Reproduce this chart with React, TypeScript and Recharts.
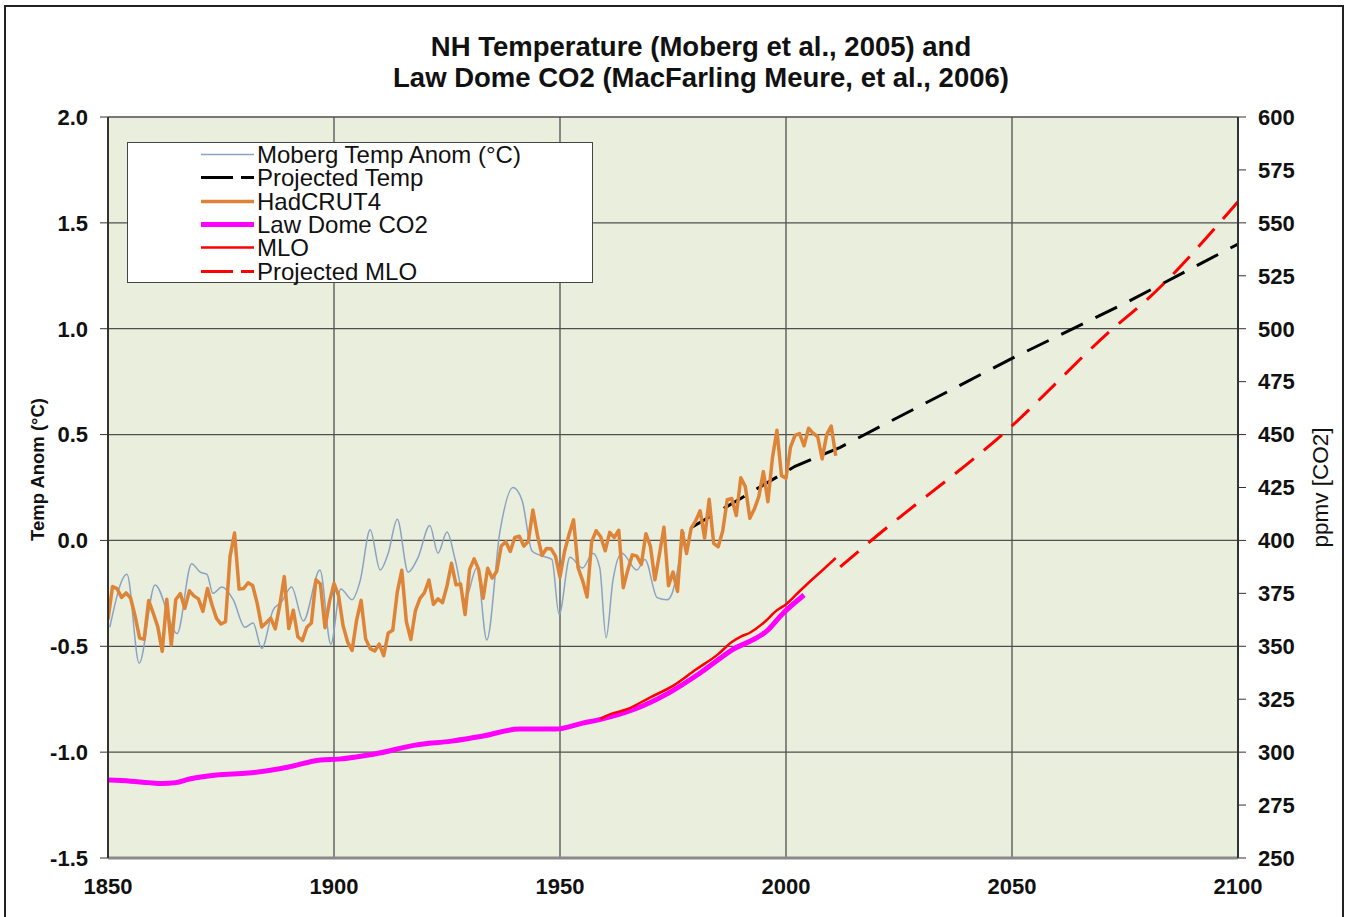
import { LineChart, Line, XAxis, YAxis, CartesianGrid, Legend } from 'recharts';

// x axis / tick labels
const YEAR_TICKS = [1850, 1900, 1950, 2000, 2050, 2100];
const TEMP_TICKS = [-1.5, -1.0, -0.5, 0, 0.5, 1.0, 1.5, 2.0];
const CO2_TICKS = [250, 275, 300, 325, 350, 375, 400, 425, 450, 475, 500, 525, 550, 575, 600];

// Moberg et al. 2005 NH temperature anomaly (smoothed)
const mobergYears = [
  1850.4, 1854.2, 1856.9, 1860.4, 1865.3, 1868.5, 1870.4, 1871.9, 1873.2, 1875.2, 1877.7, 1880.3,
  1882.1, 1884.0, 1886.5, 1888.4, 1890.6, 1893.2, 1896.9, 1899.3, 1901.5, 1904.0, 1905.8, 1908.0,
  1910.2, 1912.0, 1914.0, 1916.4, 1918.6, 1921.2, 1923.0, 1925.0, 1926.8, 1929.0, 1931.6, 1933.8,
  1936.7, 1939.6, 1941.6, 1943.8, 1945.6, 1948.2, 1949.8, 1952.2, 1955.0, 1957.3, 1958.8, 1960.2,
  1961.7, 1963.7, 1967.0, 1968.8, 1971.5, 1973.7, 1974.8, 1976.1, 1977.5,
];
const mobergTemp = [
  -0.41, -0.16, -0.58, -0.21, -0.44, -0.11, -0.15, -0.16, -0.25, -0.22, -0.28, -0.41,
  -0.39, -0.51, -0.33, -0.29, -0.22, -0.38, -0.14, -0.49, -0.23, -0.28, -0.19, 0.05,
  -0.14, -0.06, 0.10, -0.15, -0.08, 0.07, -0.06, 0.04, -0.09, -0.28, -0.13, -0.47,
  0.04, 0.25, 0.19, -0.05, -0.07, -0.09, -0.35, -0.08, -0.13, -0.06, -0.13, -0.46,
  -0.19, -0.06, -0.14, -0.09, -0.27, -0.28, -0.25, -0.13, 0.04,
];

// HadCRUT4 annual anomaly, 1850 onwards
const HADCRUT_START = 1850;
const hadcrutTemp = [
  -0.373, -0.218, -0.228, -0.269, -0.248, -0.272, -0.358, -0.461, -0.467, -0.284,
  -0.343, -0.407, -0.524, -0.278, -0.494, -0.279, -0.251, -0.321, -0.238, -0.262,
  -0.276, -0.335, -0.227, -0.304, -0.368, -0.395, -0.384, -0.075, 0.035, -0.23,
  -0.227, -0.2, -0.213, -0.296, -0.409, -0.389, -0.367, -0.418, -0.307, -0.171,
  -0.416, -0.33, -0.455, -0.473, -0.41, -0.39, -0.186, -0.206, -0.412, -0.289,
  -0.203, -0.259, -0.402, -0.479, -0.52, -0.377, -0.283, -0.465, -0.511, -0.522,
  -0.49, -0.544, -0.437, -0.424, -0.244, -0.141, -0.383, -0.468, -0.333, -0.275,
  -0.247, -0.187, -0.302, -0.276, -0.294, -0.215, -0.108, -0.21, -0.206, -0.35,
  -0.137, -0.087, -0.137, -0.273, -0.131, -0.178, -0.147, -0.026, -0.006, -0.052,
  0.014, 0.02, -0.027, -0.004, 0.144, 0.025, -0.071, -0.038, -0.039, -0.074,
  -0.173, -0.052, 0.028, 0.097, -0.129, -0.19, -0.267, -0.007, 0.046, 0.017,
  -0.049, 0.038, 0.014, 0.048, -0.223, -0.14, -0.068, -0.074, -0.113, 0.032,
  -0.027, -0.186, -0.065, 0.062, -0.214, -0.149, -0.241, 0.047, -0.062, 0.057,
  0.092, 0.14, 0.011, 0.194, -0.014, -0.03, 0.045, 0.192, 0.198, 0.118,
  0.296, 0.254, 0.105, 0.148, 0.208, 0.325, 0.183, 0.39, 0.52, 0.306,
  0.294, 0.441, 0.496, 0.505, 0.447, 0.53, 0.506, 0.491, 0.385, 0.5,
  0.54, 0.4,
];

// projected temperature (black dashed)
const projTempYears = [1979, 2002, 2012, 2050, 2075, 2100];
const projTemp = [0.06, 0.35, 0.44, 0.86, 1.12, 1.4];

// Law Dome CO2 (ppmv)
const lawDomeYears = [
  1850, 1855, 1859, 1862, 1865, 1868, 1874, 1881, 1890, 1897, 1901, 1909, 1918, 1926, 1933, 1941,
  1949, 1955, 1959, 1966, 1974, 1981, 1988, 1996, 1999, 2004,
];
const lawDomeCo2 = [
  286.8, 286.3, 285.6, 285.2, 285.6, 287.3, 289.2, 290.1, 293.0, 296.3, 296.7, 299.1, 303.3, 305.2,
  307.6, 310.9, 310.9, 313.7, 315.5, 319.9, 327.9, 337.4, 348.2, 357.7, 364.8, 374.2,
];

// Mauna Loa CO2
const mloYears = [1959, 1960, 1965, 1970, 1975, 1980, 1985, 1988, 1990, 1992, 1995, 1998, 2000, 2003, 2005, 2008, 2011];
const mloCo2 = [315.6, 316.9, 320.4, 325.9, 331.3, 338.9, 346.3, 352.0, 354.6, 356.4, 361.0, 367.0, 369.8, 376.0, 380.0, 385.8, 391.7];

// projected MLO (red dashed)
const projMloYears = [2012, 2019, 2049, 2072, 2080, 2100];
const projMloCo2 = [387.5, 400.2, 452.2, 499.4, 514.0, 560.0];

const zip = (xs: number[], ys: number[], key: string) => xs.map((x, i) => ({ year: x, [key]: ys[i] }));

const mobergData = zip(mobergYears, mobergTemp, 'temp');
const hadcrutData = hadcrutTemp.map((v, i) => ({ year: HADCRUT_START + i, temp: v }));
const projTempData = zip(projTempYears, projTemp, 'temp');
const lawDomeData = zip(lawDomeYears, lawDomeCo2, 'co2');
const mloData = zip(mloYears, mloCo2, 'co2');
const projMloData = zip(projMloYears, projMloCo2, 'co2');

const FONT = '"Liberation Sans", Arial, Helvetica, sans-serif';

const LEGEND_ORDER = ['Moberg Temp Anom (°C)', 'Projected Temp', 'HadCRUT4', 'Law Dome CO2', 'MLO', 'Projected MLO'];

const STYLES: Record<string, { color: string; width: number; dash?: boolean }> = {
  'Moberg Temp Anom (°C)': { color: '#8AA3C4', width: 1.5 },
  'Projected Temp': { color: '#000000', width: 3, dash: true },
  HadCRUT4: { color: '#DE8438', width: 3.5 },
  'Law Dome CO2': { color: '#FF00FF', width: 5 },
  MLO: { color: '#FF0000', width: 2.5 },
  'Projected MLO': { color: '#FF0000', width: 3, dash: true },
};

const LegendBox = ({ payload }: any) => {
  const entries = [...(payload || [])].sort(
    (a: any, b: any) => LEGEND_ORDER.indexOf(a.value) - LEGEND_ORDER.indexOf(b.value)
  );
  return (
    <div
      style={{
        width: 466,
        height: 141,
        boxSizing: 'border-box',
        background: '#fff',
        border: '1px solid #444',
        fontFamily: FONT,
        fontSize: 24,
        color: '#111',
      }}
    >
      {entries.map((entry: any) => {
        const s = STYLES[entry.value];
        return (
          <div key={entry.value} style={{ height: 23.3, display: 'flex', alignItems: 'center', whiteSpace: 'nowrap' }}>
            <svg width={129} height={23} style={{ flex: 'none' }}>
              {s.dash ? (
                <>
                  <line x1={73} x2={105} y1={11.5} y2={11.5} stroke={s.color} strokeWidth={s.width} />
                  <line x1={113} x2={126} y1={11.5} y2={11.5} stroke={s.color} strokeWidth={s.width} />
                </>
              ) : (
                <line x1={73} x2={126} y1={11.5} y2={11.5} stroke={s.color} strokeWidth={s.width} />
              )}
            </svg>
            <span style={{ lineHeight: '23px' }}>{entry.value}</span>
          </div>
        );
      })}
    </div>
  );
};

const AxisTitle = ({ viewBox, text, dx, dy, size, weight }: any) => {
  const cx = viewBox.x + dx;
  const cy = viewBox.y + viewBox.height / 2 + dy;
  return (
    <text
      x={cx}
      y={cy}
      transform={`rotate(-90 ${cx} ${cy})`}
      textAnchor="middle"
      dominantBaseline="central"
      fontFamily={FONT}
      fontSize={size}
      fontWeight={weight}
      fill="#111"
    >
      {text}
    </text>
  );
};

const tickStyle = { fill: '#111', fontSize: 22, fontWeight: 700, fontFamily: FONT };

const App = () => {
  return (
    <div style={{ position: 'absolute', left: 0, top: 0, width: 1347, height: 917, background: '#fff', overflow: 'hidden' }}>
      <div
        style={{
          position: 'absolute',
          left: 4,
          top: 5,
          width: 1340,
          height: 912,
          boxSizing: 'border-box',
          borderTop: '2px solid #222',
          borderLeft: '2px solid #222',
          borderRight: '2px solid #222',
        }}
      />
      <div
        style={{
          position: 'absolute',
          left: 0,
          top: 31,
          width: 1402,
          textAlign: 'center',
          fontFamily: FONT,
          fontWeight: 700,
          fontSize: 27.5,
          lineHeight: '31px',
          color: '#111',
          zIndex: 2,
        }}
      >
        <div>NH Temperature (Moberg et al., 2005) and</div>
        <div>Law Dome CO2 (MacFarling Meure, et al., 2006)</div>
      </div>
      <LineChart width={1347} height={917} margin={{ top: 117, right: 9, bottom: 19, left: 8 }}>
        <CartesianGrid
          xAxisId="x"
          yAxisId="temp"
          stroke="#4f4f4f"
          strokeWidth={1.3}
          fill="#EAEEDC"
          fillOpacity={1}
          horizontalValues={TEMP_TICKS}
          verticalValues={YEAR_TICKS}
        />
        <XAxis
          xAxisId="x"
          type="number"
          dataKey="year"
          domain={[1850, 2100]}
          ticks={YEAR_TICKS}
          allowDataOverflow
          height={40}
          tickSize={8}
          tickMargin={12}
          tickLine={false}
          axisLine={{ stroke: '#8a8a8a', strokeWidth: 3 }}
          tick={tickStyle}
        />
        <YAxis
          yAxisId="temp"
          orientation="left"
          domain={[-1.5, 2]}
          ticks={TEMP_TICKS}
          allowDataOverflow
          width={100}
          tickSize={8}
          tickMargin={12}
          tickFormatter={(v: number) => v.toFixed(1)}
          axisLine={{ stroke: '#333', strokeWidth: 2 }}
          tickLine={{ stroke: '#333' }}
          tick={tickStyle}
          label={<AxisTitle text="Temp Anom (°C)" dx={29} dy={-18} size={18.5} weight={700} />}
        />
        <YAxis
          yAxisId="co2"
          orientation="right"
          domain={[250, 600]}
          ticks={CO2_TICKS}
          allowDataOverflow
          width={100}
          tickSize={8}
          tickMargin={12}
          axisLine={{ stroke: '#333', strokeWidth: 2 }}
          tickLine={{ stroke: '#333' }}
          tick={tickStyle}
          label={<AxisTitle text="ppmv [CO2]" dx={82} dy={0} size={22.5} weight={400} />}
        />
        <Legend
          layout="horizontal"
          verticalAlign="middle"
          align="center"
          width={466}
          wrapperStyle={{ left: 127, top: 142, width: 466, height: 141 }}
          content={<LegendBox />}
        />
        <Line
          name="Moberg Temp Anom (°C)"
          data={mobergData}
          xAxisId="x"
          yAxisId="temp"
          dataKey="temp"
          type="monotone"
          stroke={STYLES['Moberg Temp Anom (°C)'].color}
          strokeWidth={1.5}
          dot={false}
          activeDot={false}
          isAnimationActive={false}
        />
        <Line
          name="Projected Temp"
          data={projTempData}
          xAxisId="x"
          yAxisId="temp"
          dataKey="temp"
          type="linear"
          stroke="#000"
          strokeWidth={3}
          strokeDasharray="24 14"
          dot={false}
          activeDot={false}
          isAnimationActive={false}
        />
        <Line
          name="HadCRUT4"
          data={hadcrutData}
          xAxisId="x"
          yAxisId="temp"
          dataKey="temp"
          type="linear"
          stroke={STYLES.HadCRUT4.color}
          strokeWidth={3.5}
          strokeLinejoin="round"
          dot={false}
          activeDot={false}
          isAnimationActive={false}
        />
        <Line
          name="Law Dome CO2"
          data={lawDomeData}
          xAxisId="x"
          yAxisId="co2"
          dataKey="co2"
          type="monotone"
          stroke="#FF00FF"
          strokeWidth={5}
          dot={false}
          activeDot={false}
          isAnimationActive={false}
        />
        <Line
          name="MLO"
          data={mloData}
          xAxisId="x"
          yAxisId="co2"
          dataKey="co2"
          type="monotone"
          stroke="#FF0000"
          strokeWidth={2.5}
          dot={false}
          activeDot={false}
          isAnimationActive={false}
        />
        <Line
          name="Projected MLO"
          data={projMloData}
          xAxisId="x"
          yAxisId="co2"
          dataKey="co2"
          type="monotone"
          stroke="#FF0000"
          strokeWidth={3}
          strokeDasharray="24 13"
          dot={false}
          activeDot={false}
          isAnimationActive={false}
        />
      </LineChart>
    </div>
  );
};

export default App;
